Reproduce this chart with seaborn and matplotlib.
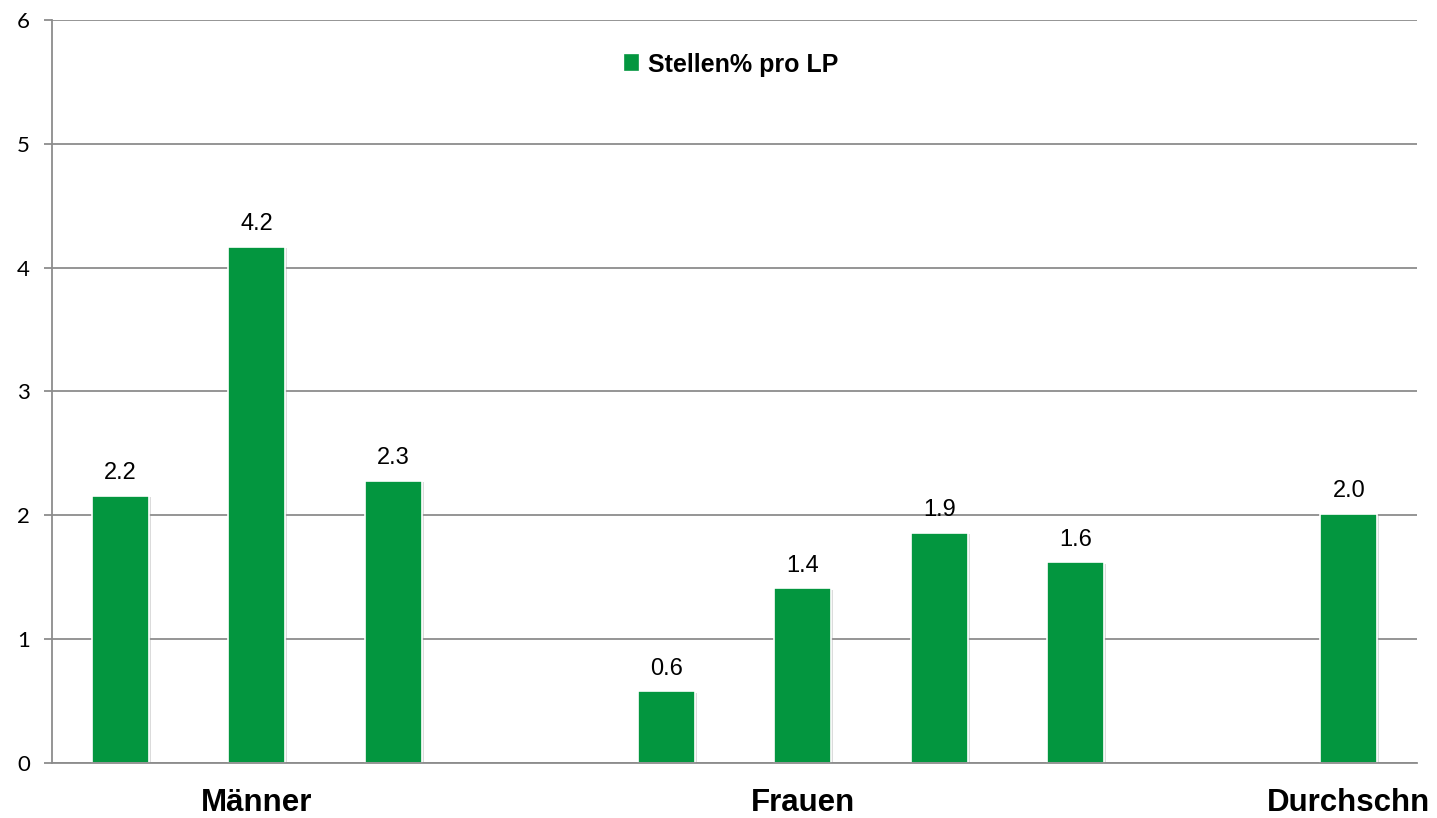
import matplotlib
matplotlib.use("Agg")
import matplotlib.pyplot as plt
import matplotlib.patheffects as pe
import seaborn as sns
import pandas as pd
import numpy as np

# slots along the x axis (two empty gaps between groups)
slots = ["m1", "m2", "m3", "gap1", "f1", "f2", "f3", "f4", "gap2", "avg"]
tick_labels = ["", "Männer", "", "", "", "Frauen", "", "", "", "Durchschn"]
values = [2.16, 4.17, 2.28, np.nan, 0.58, 1.41, 1.86, 1.62, np.nan, 2.01]
series_name = "Stellen% pro LP"

green = "#03963f"
grid_gray = "#8c8c8c"

df = pd.DataFrame({"slot": slots, "value": values, "series": series_name})

sns.set_style("white")
plt.rcParams["font.family"] = ["Liberation Sans", "DejaVu Sans"]
plt.rcParams["text.color"] = "black"
plt.rcParams["xtick.color"] = "black"
plt.rcParams["ytick.color"] = "black"

fig = plt.figure(figsize=(14.37, 8.18), dpi=100)
ax = fig.add_axes([0.0362, 0.0672, 0.9499, 0.9084])

sns.barplot(data=df, x="slot", y="value", hue="series", order=slots,
            palette=[green], saturation=1, width=0.42, ax=ax, errorbar=None,
            edgecolor="white", linewidth=1.2)

for p in ax.patches:
    p.set_path_effects([pe.withSimplePatchShadow(offset=(1.2, -1.2),
                                                 shadow_rgbFace="#999999",
                                                 alpha=0.35)])
    h = p.get_height()
    if np.isfinite(h) and h > 0:
        ax.annotate(f"{h:.1f}", (p.get_x() + p.get_width() / 2, h),
                    xytext=(0, 12), textcoords="offset points",
                    ha="center", va="baseline", fontsize=17)

ax.set_ylim(0, 6)
ax.set_xlim(-0.5, len(slots) - 0.5)
ax.set_yticks(range(0, 7))
ax.yaxis.grid(True, color=grid_gray, linewidth=1.3)
ax.set_axisbelow(True)
ax.tick_params(axis="y", length=6, width=1.3, color=grid_gray, pad=10,
               left=True, labelcolor="black")
ax.tick_params(axis="x", length=0, pad=18, labelcolor="black")
for lab in ax.get_yticklabels():
    lab.set_fontfamily("Lato")
    lab.set_fontsize(16)
ax.set_xticks(range(len(slots)))
ax.set_xticklabels(tick_labels, fontsize=22.5, fontweight="bold")

for s in ["top", "right"]:
    ax.spines[s].set_visible(False)
ax.spines["left"].set_color(grid_gray)
ax.spines["left"].set_linewidth(1.3)
ax.spines["bottom"].set_color(grid_gray)
ax.spines["bottom"].set_linewidth(1.3)

ax.set_xlabel("")
ax.set_ylabel("")

leg = ax.legend(loc="center", bbox_to_anchor=(0.498, 0.94), frameon=False,
                handlelength=0.55, handleheight=0.55, handletextpad=0.4,
                prop={"weight": "bold", "size": 18})
for h in leg.legend_handles:
    h.set_path_effects([])
    h.set_edgecolor(green)

fig.savefig("out.png", dpi=100)
